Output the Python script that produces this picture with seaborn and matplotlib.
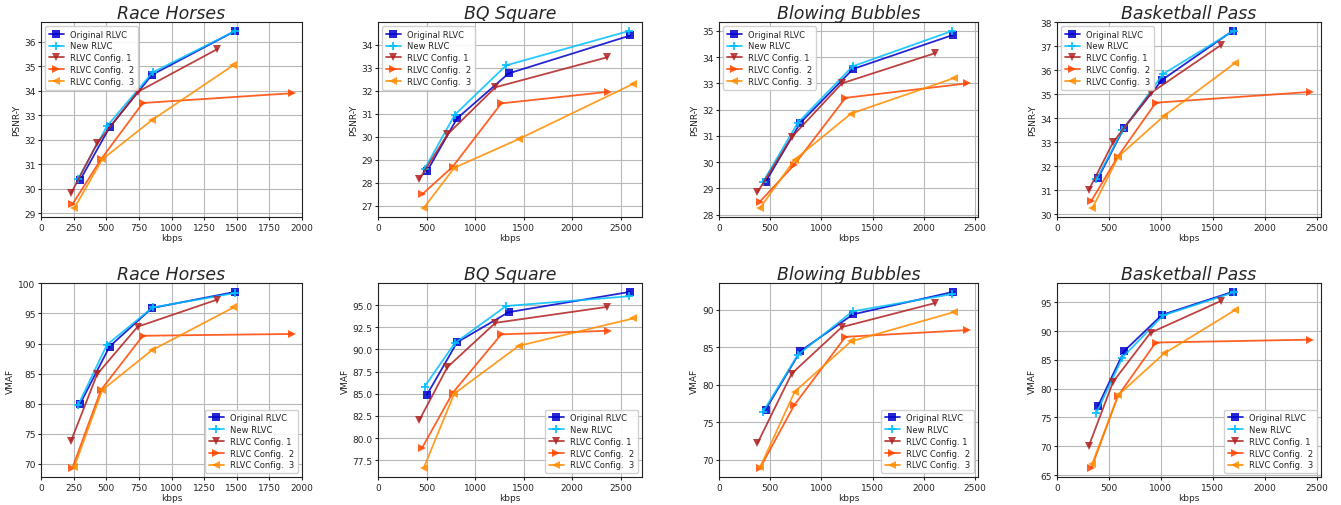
import numpy as np
import pandas as pd
import matplotlib
matplotlib.use("Agg")
import matplotlib.pyplot as plt
import seaborn as sns

# ---- data ----
sequences = ["Race Horses", "BQ Square", "Blowing Bubbles", "Basketball Pass"]
series = ["Original RLVC", "New RLVC", "RLVC Config. 1", "RLVC Config.  2", "RLVC Config.  3"]

rh_kbps = [[300, 525, 850, 1490], [285, 505, 855, 1490], [230, 430, 740, 1350],
           [240, 460, 780, 1925], [255, 470, 850, 1475]]
rh_psnr = [[30.35, 32.5, 34.65, 36.45], [30.4, 32.55, 34.75, 36.45], [29.8, 31.85, 33.95, 35.7],
           [29.35, 31.2, 33.5, 33.9], [29.2, 31.2, 32.8, 35.05]]
rh_vmaf = [[80.0, 89.5, 95.9, 98.6], [79.8, 89.8, 96.0, 98.4], [73.8, 84.9, 92.8, 97.3],
           [69.3, 82.3, 91.3, 91.6], [69.5, 82.3, 88.9, 96.0]]

bq_kbps = [[505, 815, 1345, 2600], [480, 790, 1320, 2590], [425, 715, 1210, 2360],
           [455, 770, 1270, 2365], [470, 785, 1450, 2630]]
bq_psnr = [[28.5, 30.8, 32.75, 34.4], [28.6, 30.95, 33.1, 34.6], [28.15, 30.1, 32.15, 33.45],
           [27.5, 28.7, 31.45, 31.95], [26.9, 28.65, 29.9, 32.3]]
bq_vmaf = [[84.9, 90.8, 94.2, 96.5], [85.8, 90.7, 94.9, 96.0], [82.0, 88.0, 93.0, 94.8],
           [78.9, 85.1, 91.7, 92.1], [76.6, 85.0, 90.4, 93.5]]

bb_kbps = [[455, 795, 1310, 2290], [430, 770, 1305, 2280], [375, 710, 1200, 2110],
           [400, 735, 1235, 2425], [400, 740, 1290, 2295]]
bb_psnr = [[29.25, 31.5, 33.55, 34.85], [29.25, 31.5, 33.65, 35.0], [28.85, 30.95, 33.0, 34.15],
           [28.5, 29.9, 32.45, 33.0], [28.25, 30.1, 31.85, 33.2]]
bb_vmaf = [[76.7, 84.5, 89.4, 92.4], [76.4, 84.0, 89.8, 92.1], [72.2, 81.5, 87.7, 90.9],
           [68.9, 77.3, 86.4, 87.3], [69.0, 79.1, 85.8, 89.7]]

bp_kbps = [[395, 645, 1010, 1690], [380, 630, 1020, 1700], [305, 540, 900, 1575],
           [330, 585, 950, 2430], [340, 590, 1030, 1710]]
bp_psnr = [[31.5, 33.6, 35.6, 37.65], [31.45, 33.5, 35.85, 37.65], [31.0, 33.0, 35.05, 37.05],
           [30.55, 32.4, 34.65, 35.1], [30.25, 32.4, 34.1, 36.3]]
bp_vmaf = [[77.0, 86.5, 92.8, 96.8], [75.8, 85.4, 92.7, 96.7], [70.0, 81.2, 89.7, 95.2],
           [66.2, 78.7, 88.0, 88.5], [67.0, 78.9, 86.1, 93.6]]

kbps = [rh_kbps, bq_kbps, bb_kbps, bp_kbps]
psnr = [rh_psnr, bq_psnr, bb_psnr, bp_psnr]
vmaf = [rh_vmaf, bq_vmaf, bb_vmaf, bp_vmaf]

colors = ["mediumblue", "deepskyblue", "firebrick", "orangered", "darkorange"]
markers = ["s", "P", "v", ">", "<"]

sns.set_style("ticks")
plt.rcParams["font.family"] = ["DejaVu Sans"]

W, H = 1341, 506
fig = plt.figure(figsize=(W / 100, H / 100), dpi=100)

lefts = [41, 378, 719, 1057]
widths = [261, 264, 259, 264]
rows = [(23, 218), (284, 478)]
xmax = [2000, 2720, 2530, 2540]


def draw(ax, xs, ys, title, ylabel, legend_loc):
    for i, name in enumerate(series):
        df = pd.DataFrame({"kbps": xs[i], "val": ys[i]})
        sns.lineplot(data=df, x="kbps", y="val", ax=ax, color=colors[i], marker=markers[i],
                     markersize=6, markeredgewidth=0, lw=1.3, alpha=0.85, sort=False,
                     label=name)
    ax.set_title(title, fontsize=12.5, style="italic", pad=3)
    ax.set_xlabel("kbps", fontsize=6.5, labelpad=1)
    ax.set_ylabel(ylabel, fontsize=6.5, labelpad=2)
    ax.tick_params(labelsize=6.5, length=2.5, pad=1.5)
    ax.grid(True, color="#b8b8b8", lw=0.8)
    for s in ax.spines.values():
        s.set_color("#222222")
        s.set_linewidth(0.8)
    ax.legend(loc=legend_loc, fontsize=6, frameon=True, handlelength=1.8,
              borderpad=0.4, labelspacing=0.35, framealpha=0.9)


for c in range(4):
    for r, (vals, ylabel, loc) in enumerate([(psnr, "PSNR-Y", "upper left"),
                                              (vmaf, "VMAF", "lower right")]):
        top, bot = rows[r]
        ax = fig.add_axes([lefts[c] / W, 1 - bot / H, widths[c] / W, (bot - top) / H])
        draw(ax, kbps[c], vals[c], sequences[c], ylabel, loc)
        ax.set_xlim(0, xmax[c])
        if c == 0:
            ax.set_xticks(np.arange(0, 2001, 250))

fig.savefig("out.png", dpi=100)
